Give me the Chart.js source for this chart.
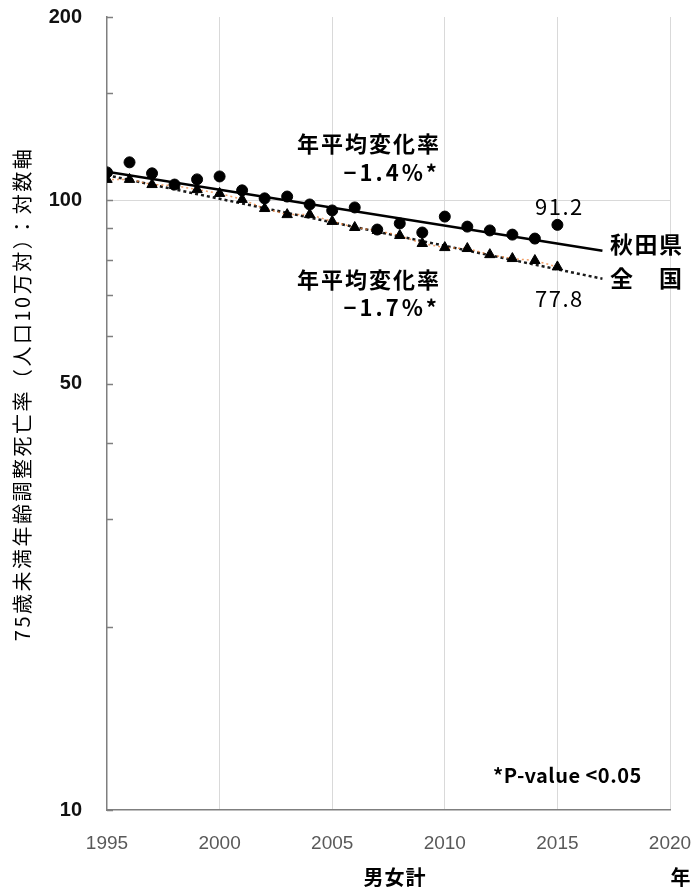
<!DOCTYPE html>
<html lang="ja">
<head>
<meta charset="utf-8">
<script src="https://cdn.jsdelivr.net/npm/chart.js@4/dist/chart.umd.min.js"></script>
<style>
  html, body { margin: 0; padding: 0; background: #fff; }
  #wrap { position: relative; width: 700px; height: 889px; }
</style>
</head>
<body>
<div id="wrap"><canvas id="c" width="700" height="889"></canvas></div>
<script>
// Age-adjusted mortality under 75 (per 100,000), both sexes
const years = [1995, 1996, 1997, 1998, 1999, 2000, 2001, 2002, 2003, 2004, 2005,
               2006, 2007, 2008, 2009, 2010, 2011, 2012, 2013, 2014, 2015];
const akitaRates = [111.2, 115.5, 110.8, 106.2, 108.3, 109.5, 103.9, 100.8, 101.5, 98.5, 96.3,
                    97.4, 89.6, 91.7, 88.6, 94.1, 90.6, 89.3, 87.9, 86.6, 91.2];
const nationalRates = [108.3, 108.3, 106.2, 105.8, 104.2, 102.7, 100.4, 97.0, 94.8, 94.8, 92.4,
                       90.3, 89.3, 87.6, 85.0, 83.7, 83.4, 81.5, 80.3, 79.7, 77.8];

// Fitted log-linear trends (start / end of the drawn segment)
const trendYears = [1995, 2017];
const akitaTrend = [111.5, 82.7];
const nationalTrend = [110.0, 74.4];

// Axis ticks
const xTicks = [1995, 2000, 2005, 2010, 2015, 2020];
const yLabelTicks = [10, 50, 100, 200];

const seriesNames = ['秋田県', '全　国'];
const changeLabels = ['年平均変化率', '−1.4%*', '−1.7%*'];

const toPoints = (xs, ys) => xs.map((x, i) => ({ x: x, y: ys[i] }));

const CJK = '"Noto Sans CJK JP", "Noto Sans", sans-serif';
const LAT = '"Liberation Sans", Arial, sans-serif';

// small inward tick marks on the log axis
const innerTicks = {
  id: 'innerTicks',
  afterDraw(chart) {
    const ctx = chart.ctx;
    const y = chart.scales.y;
    const left = chart.chartArea.left;
    ctx.save();
    ctx.strokeStyle = '#7f7f7f';
    ctx.lineWidth = 1.5;
    y.ticks.forEach(t => {
      const py = Math.round(y.getPixelForValue(t.value)) + 0.5;
      ctx.beginPath();
      ctx.moveTo(left, py);
      ctx.lineTo(left + 6, py);
      ctx.stroke();
    });
    ctx.restore();
  }
};

// text labels drawn over the plot
const overlayText = {
  id: 'overlayText',
  afterDraw(chart) {
    const ctx = chart.ctx;
    const xs = chart.scales.x, ys = chart.scales.y;
    ctx.save();
    ctx.fillStyle = '#000';
    ctx.textBaseline = 'middle';

    // y axis title
    ctx.save();
    ctx.translate(22, 394);
    ctx.rotate(-Math.PI / 2);
    ctx.textAlign = 'center';
    ctx.font = '20px ' + CJK;
    ctx.letterSpacing = '2.5px';
    ctx.fillText('75歳未満年齢調整死亡率（人口10万対）：対数軸', 0, 0);
    ctx.restore();

    // annual change annotations
    ctx.font = 'bold 22px ' + CJK;
    ctx.letterSpacing = '2px';
    ctx.textAlign = 'center';
    ctx.fillText(changeLabels[0], 369, 144);
    ctx.fillText(changeLabels[0], 369, 280);
    ctx.textAlign = 'right';
    ctx.letterSpacing = '3px';
    ctx.fillText(changeLabels[1], 440, 173);
    ctx.fillText(changeLabels[2], 440, 308);

    // value labels at the last year
    const last = years.length - 1;
    const lx = xs.getPixelForValue(years[last]);
    ctx.textAlign = 'center';
    ctx.font = '22px ' + CJK;
    ctx.letterSpacing = '1.5px';
    ctx.fillText(akitaRates[last].toFixed(1), lx + 2, ys.getPixelForValue(akitaRates[last]) - 18);
    ctx.fillText(nationalRates[last].toFixed(1), lx + 2, ys.getPixelForValue(nationalRates[last]) + 32);

    // series names at the end of the trend lines
    ctx.textAlign = 'left';
    ctx.font = 'bold 23px ' + CJK;
    ctx.letterSpacing = '1.5px';
    ctx.fillText(seriesNames[0], 610, 244);
    ctx.fillText(seriesNames[1], 610, 278);

    // significance note
    ctx.font = 'bold 20px ' + CJK;
    ctx.letterSpacing = '0.5px';
    ctx.fillText('*P-value <0.05', 493, 775);

    // x axis titles
    ctx.textAlign = 'center';
    ctx.letterSpacing = '1px';
    ctx.font = 'bold 20px ' + CJK;
    ctx.fillText('男女計', 395, 877);
    ctx.fillText('年', 681, 877);
    ctx.restore();
  }
};

new Chart(document.getElementById('c'), {
  type: 'scatter',
  data: {
    datasets: [
      {
        label: seriesNames[0] + ' trend',
        data: toPoints(trendYears, akitaTrend),
        showLine: true,
        borderColor: '#000',
        borderWidth: 2.5,
        pointRadius: 0,
        order: 4
      },
      {
        label: seriesNames[1] + ' trend',
        data: toPoints(trendYears, nationalTrend),
        showLine: true,
        borderColor: '#1a1a1a',
        borderWidth: 2.5,
        borderDash: [3, 3],
        pointRadius: 0,
        order: 3
      },
      {
        label: seriesNames[1],
        data: toPoints(years, nationalRates),
        showLine: true,
        borderColor: 'rgba(237,125,49,0.75)',
        borderWidth: 1.5,
        borderDash: [2, 3],
        pointStyle: 'triangle',
        pointRadius: 6,
        pointBackgroundColor: '#000',
        pointBorderColor: '#000',
        pointBorderWidth: 1,
        order: 2
      },
      {
        label: seriesNames[0],
        data: toPoints(years, akitaRates),
        showLine: false,
        pointStyle: 'circle',
        pointRadius: 5.5,
        pointBackgroundColor: '#000',
        pointBorderColor: '#000',
        pointBorderWidth: 1,
        order: 1
      }
    ]
  },
  options: {
    responsive: false,
    animation: false,
    devicePixelRatio: 1,
    layout: { padding: { top: 17, right: 30, left: 0, bottom: 0 } },
    plugins: {
      legend: { display: false },
      tooltip: { enabled: false },
      title: { display: false }
    },
    scales: {
      x: {
        type: 'linear',
        min: xTicks[0],
        max: xTicks[xTicks.length - 1],
        afterBuildTicks(scale) { scale.ticks = xTicks.map(v => ({ value: v })); },
        afterFit(scale) {
          scale.height = 79;
          scale.paddingLeft = 0;
          scale.paddingRight = 0;
        },
        grid: {
          color: ctx => (ctx.tick && ctx.tick.value === xTicks[0]) ? 'rgba(0,0,0,0)' : '#d9d9d9',
          lineWidth: 1,
          drawTicks: false
        },
        border: { color: '#7f7f7f', width: 1.5 },
        ticks: {
          padding: 22,
          color: '#595959',
          font: { family: LAT, size: 19 },
          maxRotation: 0,
          autoSkip: false,
          callback: v => String(v)
        }
      },
      y: {
        type: 'logarithmic',
        min: yLabelTicks[0],
        max: yLabelTicks[yLabelTicks.length - 1],
        afterFit(scale) {
          scale.width = 107;
          scale.paddingTop = 0;
          scale.paddingBottom = 0;
        },
        grid: {
          color: ctx => (ctx.tick && ctx.tick.value === 100) ? '#d9d9d9' : 'rgba(0,0,0,0)',
          lineWidth: 1,
          drawTicks: false
        },
        border: { color: '#7f7f7f', width: 1.5 },
        ticks: {
          autoSkip: false,
          padding: 25,
          color: '#111',
          font: { family: LAT, size: 20, weight: 'bold' },
          callback: v => yLabelTicks.includes(v) ? String(v) : ''
        }
      }
    }
  },
  plugins: [innerTicks, overlayText]
});
</script>
</body>
</html>
